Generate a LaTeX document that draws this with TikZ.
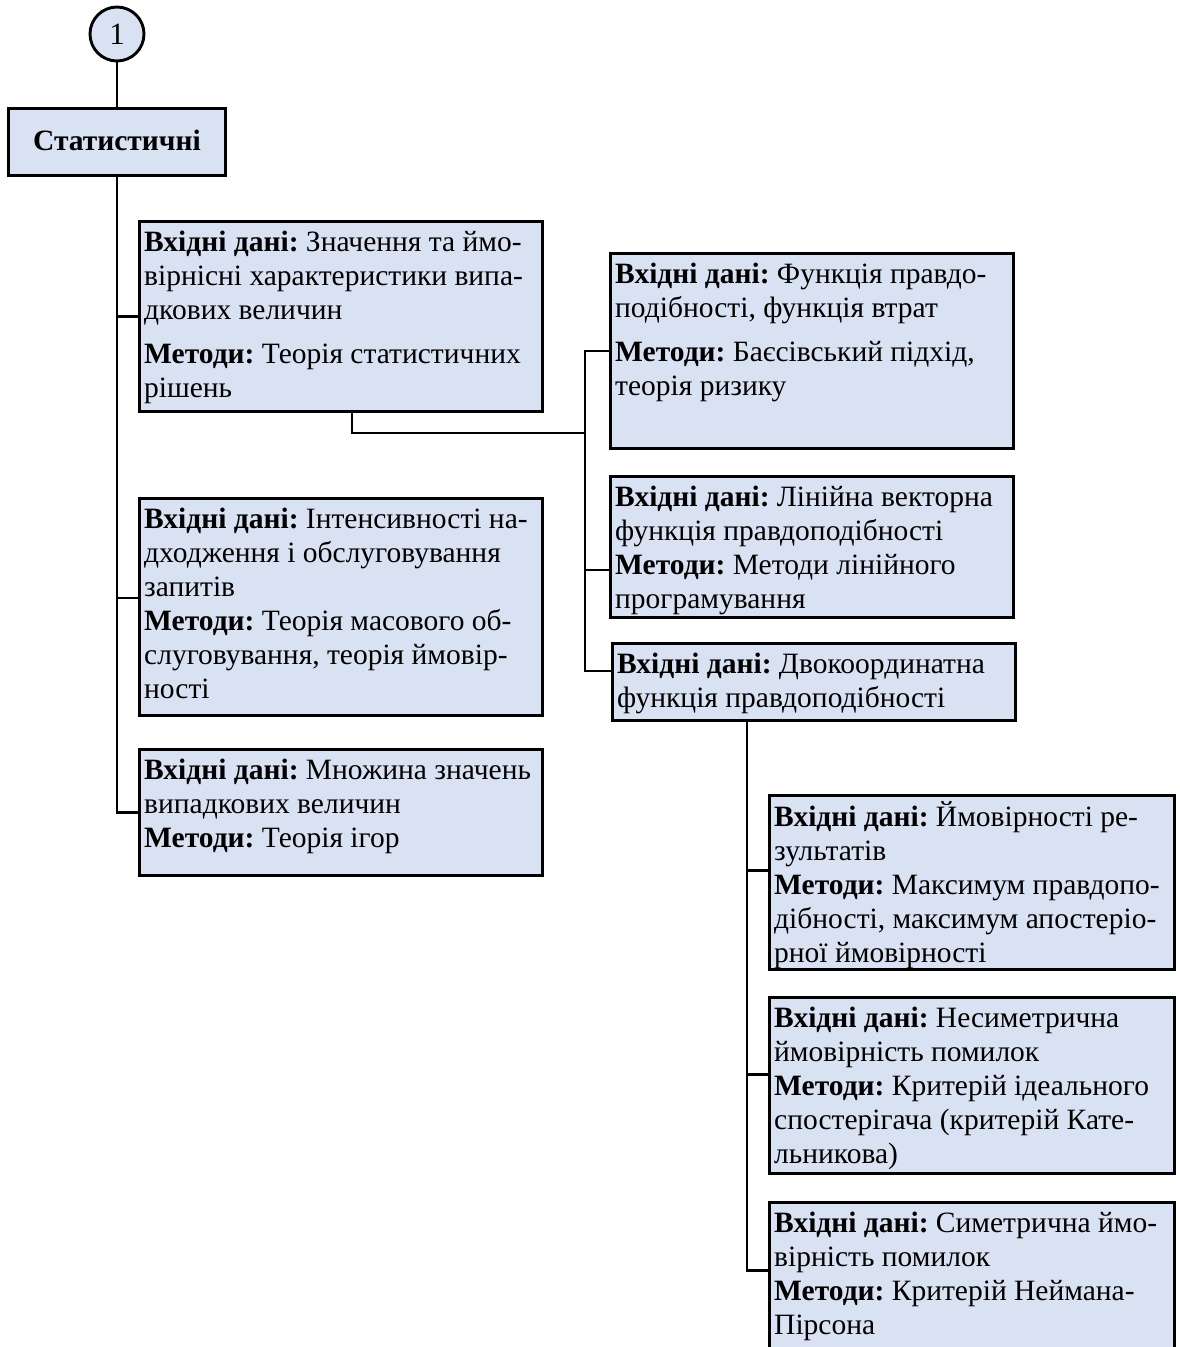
\documentclass[tikz,border=0pt]{standalone}
\usepackage{fontspec}
\setmainfont{Liberation Serif}
\frenchspacing
\definecolor{boxFill}{RGB}{217,226,243}
\newcommand{\inp}{\rule{0pt}{24pt}\textbf{Вхідні дані:}}
\newcommand{\meth}{\textbf{Методи:}}

\begin{document}
\begin{tikzpicture}[x=1pt, y=-1pt,
    link/.style={line width=2.9pt},
    infobox/.style={draw, line width=2.9pt, fill=boxFill, anchor=north west, inner sep=0pt},
    infotext/.style={anchor=north west, inner xsep=6pt, inner ysep=7pt, align=left,
      font=\fontsize{29.5}{34}\selectfont}]
  \useasboundingbox (0,0) rectangle (1179,1347);

  % top: number and category
  \node[draw, circle, line width=2.9pt, fill=boxFill, minimum size=54pt, inner sep=0pt,
    font=\fontsize{31}{34}\selectfont] (c1) at (117,34) {1};
  \node[infobox, minimum width=217pt, minimum height=67pt,
    font=\fontsize{29.5}{34}\selectfont\bfseries] (st) at (7,107) {\raisebox{3pt}{Статистичні}};

  % boxes
  \node[infobox, minimum width=403pt, minimum height=190pt] (l1) at (138,220) {};
  \node[infobox, minimum width=403pt, minimum height=217pt] (l2) at (138,497) {};
  \node[infobox, minimum width=403pt, minimum height=126pt] (l3) at (138,748) {};
  \node[infobox, minimum width=403pt, minimum height=195pt] (r1) at (609,252) {};
  \node[infobox, minimum width=403pt, minimum height=141pt] (r2) at (609,475) {};
  \node[infobox, minimum width=403pt, minimum height=77pt] (r3) at (611,642) {};
  \node[infobox, minimum width=405pt, minimum height=174pt] (b1) at (768,794) {};
  \node[infobox, minimum width=405pt, minimum height=176pt] (b2) at (768,996) {};
  \node[infobox, minimum width=405pt, minimum height=160pt] (b3) at (768,1201) {};

  % texts
  \node[infotext] (l1t) at (l1.north west) {\inp{} Значення та ймо-\\вірнісні характеристики випа-\\дкових величин\\[10pt]\meth{} Теорія статистичних\\рішень};
  \node[infotext] (l2t) at (l2.north west) {\inp{} Інтенсивності на-\\дходження і обслуговування\\запитів\\\meth{} Теорія масового об-\\слуговування, теорія ймовір-\\ності};
  \node[infotext] (l3t) at (l3.north west) {\inp{} Множина значень\\випадкових величин\\\meth{} Теорія ігор};
  \node[infotext] (r1t) at (r1.north west) {\inp{} Функція правдо-\\подібності, функція втрат\\[10pt]\meth{} Баєсівський підхід,\\теорія ризику};
  \node[infotext] (r2t) at (r2.north west) {\inp{} Лінійна векторна\\функція правдоподібності\\\meth{} Методи лінійного\\програмування};
  \node[infotext] (r3t) at (r3.north west) {\inp{} Двокоординатна\\функція правдоподібності};
  \node[infotext] (b1t) at (b1.north west) {\inp{} Ймовірності ре-\\зультатів\\\meth{} Максимум правдопо-\\дібності, максимум апостеріо-\\рної ймовірності};
  \node[infotext] (b2t) at (b2.north west) {\inp{} Несиметрична\\ймовірність помилок\\\meth{} Критерій ідеального\\спостерігача (критерій Кате-\\льникова)};
  \node[infotext] (b3t) at (b3.north west) {\inp{} Симетрична ймо-\\вірність помилок\\\meth{} Критерій Неймана-\\Пірсона};

  % connectors
  \draw[link] (c1.south) -- (c1.south |- st.north);
  \coordinate (l2in) at ([yshift=9pt]l2.west);
  \draw[link] (st.south) |- (l3.west);
  \draw[link] (st.south |- l1.west) -- (l1.west);
  \draw[link] (st.south |- l2in) -- (l2in);

  \coordinate (rj) at (585,433);
  \coordinate (r2in) at ([yshift=-23pt]r2.west);
  \coordinate (r3in) at ([yshift=11pt]r3.west);
  \draw[link] ([xshift=11pt]l1.south) |- (rj);
  \draw[link] (r1.west) -| (rj) |- (r3in);
  \draw[link] (rj |- r2in) -- (r2in);

  \coordinate (bj) at ([xshift=-67pt]r3.south);
  \coordinate (b1in) at ([yshift=12pt]b1.west);
  \coordinate (b2in) at ([yshift=11pt]b2.west);
  \coordinate (b3in) at ([yshift=12pt]b3.west);
  \draw[link] (bj) |- (b3in);
  \draw[link] (bj |- b1in) -- (b1in);
  \draw[link] (bj |- b2in) -- (b2in);
\end{tikzpicture}
\end{document}
